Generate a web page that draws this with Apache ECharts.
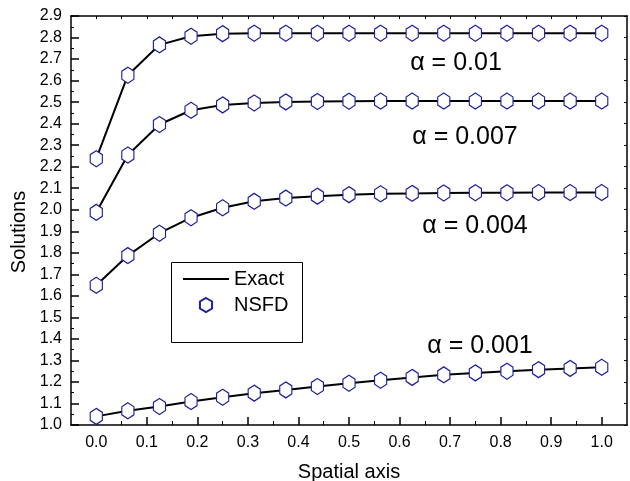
<!DOCTYPE html>
<html><head><meta charset="utf-8">
<script src="https://cdn.jsdelivr.net/npm/echarts@6/dist/echarts.min.js"></script>
<style>html,body{margin:0;padding:0;background:#fff}#c{width:630px;height:481px}</style>
</head><body><div id="c"></div>
<script>
const xValues = [0, 0.0625, 0.125, 0.1875, 0.25, 0.3125, 0.375, 0.4375, 0.5, 0.5625, 0.625, 0.6875, 0.75, 0.8125, 0.875, 0.9375, 1.0];
const alpha001 = [1.040, 1.066, 1.086, 1.109, 1.129, 1.148, 1.163, 1.179, 1.194, 1.208, 1.221, 1.233, 1.242, 1.250, 1.257, 1.263, 1.268];
const alpha004 = [1.649, 1.787, 1.891, 1.963, 2.009, 2.039, 2.054, 2.063, 2.070, 2.074, 2.076, 2.078, 2.079, 2.079, 2.080, 2.080, 2.080];
const alpha007 = [1.988, 2.254, 2.396, 2.462, 2.487, 2.496, 2.501, 2.503, 2.504, 2.505, 2.505, 2.505, 2.505, 2.505, 2.505, 2.505, 2.505];
const alpha01  = [2.237, 2.625, 2.766, 2.806, 2.818, 2.820, 2.820, 2.820, 2.820, 2.820, 2.820, 2.820, 2.820, 2.820, 2.820, 2.820, 2.820];
const seriesNames = ['α = 0.001', 'α = 0.004', 'α = 0.007', 'α = 0.01'];
const xMajorTicks = [0, 0.1, 0.2, 0.3, 0.4, 0.5, 0.6, 0.7, 0.8, 0.9, 1.0];
const xMinorTicks = [0.05, 0.15, 0.25, 0.35, 0.45, 0.55, 0.65, 0.75, 0.85, 0.95];
const xTopTicks = [0, 0.05, 0.1, 0.15, 0.2, 0.25, 0.3, 0.35, 0.4, 0.45, 0.5, 0.55, 0.6, 0.65, 0.7, 0.75, 0.8, 0.85, 0.9, 0.95, 1.0];

const FONT = '"Liberation Sans", Arial, sans-serif';
const allSets = [alpha001, alpha004, alpha007, alpha01];
const hexagon = 'path://M0,-1 L0.866,-0.5 L0.866,0.5 L0,1 L-0.866,0.5 L-0.866,-0.5 Z';

const series = [];
allSets.forEach(vals => {
  series.push({
    name: 'Exact', type: 'line', data: xValues.map((x, i) => [x, vals[i]]),
    symbol: 'none', showSymbol: false, silent: true, z: 2,
    lineStyle: { color: '#000', width: 2 }, itemStyle: { color: '#000' }
  });
});
allSets.forEach(vals => {
  series.push({
    name: 'NSFD', type: 'scatter', data: xValues.map((x, i) => [x, vals[i]]),
    symbol: hexagon, symbolSize: [14, 16], symbolKeepAspect: true, silent: true, z: 3,
    itemStyle: { color: '#fff', borderColor: '#1f1f9f', borderWidth: 1.2, opacity: 1 }
  });
});

const labelPos = [[480, 346], [475, 226], [465, 137], [456, 63]];

const chart = echarts.init(document.getElementById('c'), null, { renderer: 'canvas' });
chart.setOption({
  animation: false,
  backgroundColor: '#fff',
  grid: { left: 71, right: 3, top: 16, bottom: 56, outerBoundsMode: 'none' },
  xAxis: [
    {
      type: 'value', min: -0.05, max: 1.05, position: 'bottom',
      axisLine: { show: true, onZero: false, lineStyle: { color: '#000', width: 1.5 } },
      axisTick: { show: true, inside: true, length: 8, customValues: xMajorTicks, lineStyle: { color: '#000', width: 1.5 } },
      axisLabel: { show: true, customValues: xMajorTicks, formatter: v => v.toFixed(1), color: '#000', fontSize: 16, fontFamily: FONT, margin: 10 },
      splitLine: { show: false },
      name: 'Spatial axis', nameLocation: 'middle', nameGap: 37,
      nameTextStyle: { color: '#000', fontSize: 20, fontFamily: FONT }
    },
    {
      type: 'value', min: -0.05, max: 1.05, position: 'bottom',
      axisLine: { show: false, onZero: false },
      axisTick: { show: true, inside: true, length: 4, customValues: xMinorTicks, lineStyle: { color: '#000', width: 1 } },
      axisLabel: { show: false }, splitLine: { show: false }
    },
    {
      type: 'value', min: -0.05, max: 1.05, position: 'top',
      axisLine: { show: true, onZero: false, lineStyle: { color: '#000', width: 1.5 } },
      axisTick: { show: true, inside: true, length: 3, customValues: xTopTicks, lineStyle: { color: '#000', width: 1 } },
      axisLabel: { show: false }, splitLine: { show: false }
    }
  ],
  yAxis: [
    {
      type: 'value', min: 1.0, max: 2.9, interval: 0.1, position: 'left',
      axisLine: { show: true, onZero: false, lineStyle: { color: '#000', width: 1.5 } },
      axisTick: { show: true, inside: true, length: 8, lineStyle: { color: '#000', width: 1.5 } },
      minorTick: { show: true, splitNumber: 2, length: 3, lineStyle: { color: '#000', width: 1 } },
      axisLabel: { formatter: v => v.toFixed(1), color: '#000', fontSize: 16, fontFamily: FONT, margin: 9 },
      splitLine: { show: false }
    },
    {
      type: 'value', min: 1.0, max: 2.9, interval: 0.1, position: 'right',
      axisLine: { show: true, onZero: false, lineStyle: { color: '#000', width: 1.5 } },
      axisTick: { show: true, inside: true, length: 3, lineStyle: { color: '#000', width: 1 } },
      axisLabel: { show: false }, splitLine: { show: false }
    }
  ],
  legend: {
    data: [{ name: 'Exact', itemStyle: { opacity: 0 } }, 'NSFD'], orient: 'vertical', left: 177, top: 264,
    itemWidth: 46, itemHeight: 14, itemGap: 6, selectedMode: false,
    textStyle: { color: '#000', fontSize: 20, fontFamily: FONT }
  },
  graphic: [
    { type: 'rect', left: 169, top: 260, shape: { width: 131, height: 80 }, style: { fill: 'none', stroke: '#000', lineWidth: 1 }, z: 10 },
    { type: 'text', x: 19, y: 232, rotation: Math.PI / 2, style: { text: 'Solutions', font: '20px ' + FONT, fill: '#000', textAlign: 'center', textVerticalAlign: 'middle' } }
  ].concat(seriesNames.map((t, i) => ({
    type: 'text', x: labelPos[i][0], y: labelPos[i][1],
    style: { text: t, font: '25px ' + FONT, fill: '#000', textAlign: 'center', textVerticalAlign: 'middle' }
  }))),
  series: series
});
</script>
</body></html>
